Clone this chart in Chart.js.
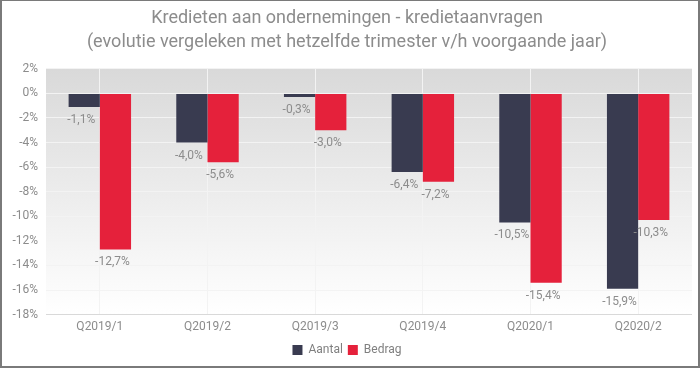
<!DOCTYPE html>
<html>
<head>
<meta charset="utf-8">
<script src="https://cdn.jsdelivr.net/npm/chart.js@4/dist/chart.umd.min.js"></script>
<style>
  html, body { margin: 0; padding: 0; background: #ffffff; }
  #wrap { width: 700px; height: 368px; box-sizing: border-box; border: 2px solid #7a7a7a; border-top-width: 1px; border-left-width: 2px; position: relative; background: #fff; }
  canvas { display: block; }
</style>
</head>
<body>
<div id="wrap"><canvas id="c" width="696" height="365"></canvas></div>
<script>
const categories = ['Q2019/1', 'Q2019/2', 'Q2019/3', 'Q2019/4', 'Q2020/1', 'Q2020/2'];
const aantal = [-1.1, -4.0, -0.3, -6.4, -10.5, -15.9];
const bedrag = [-12.7, -5.6, -3.0, -7.2, -15.4, -10.3];
const seriesNames = ['Aantal', 'Bedrag'];
const titleLines = ['Kredieten aan ondernemingen - kredietaanvragen', '(evolutie vergeleken met hetzelfde trimester v/h voorgaande jaar)'];

const FONT = 'Roboto';
const GREY = '#8c8c8c';

function fmt(v) { return v.toFixed(1).replace('.', ',') + '%'; }

const bgPlugin = {
  id: 'plotBg',
  beforeDraw(chart) {
    const a = chart.chartArea, ctx = chart.ctx;
    const g = ctx.createLinearGradient(0, a.top, 0, a.bottom);
    g.addColorStop(0, '#d9d9d9');
    g.addColorStop(1, '#ffffff');
    ctx.save();
    ctx.fillStyle = g;
    ctx.fillRect(a.left, a.top, a.right - a.left, a.bottom - a.top);
    ctx.restore();
  }
};

const labelPlugin = {
  id: 'barLabels',
  afterDatasetsDraw(chart) {
    const ctx = chart.ctx;
    ctx.save();
    ctx.font = '12px ' + FONT;
    ctx.fillStyle = GREY;
    ctx.textAlign = 'center';
    ctx.textBaseline = 'middle';
    chart.data.datasets.forEach((ds, di) => {
      const meta = chart.getDatasetMeta(di);
      meta.data.forEach((bar, i) => {
        const v = ds.data[i];
        ctx.fillText(fmt(v), bar.x - 3, bar.y + 13);
      });
    });
    ctx.restore();
  }
};

new Chart(document.getElementById('c'), {
  type: 'bar',
  data: {
    labels: categories,
    datasets: [
      { label: seriesNames[0], data: aantal, backgroundColor: '#393b50', borderWidth: 0 },
      { label: seriesNames[1], data: bedrag, backgroundColor: '#e5213b', borderWidth: 0 }
    ]
  },
  options: {
    responsive: false,
    animation: false,
    devicePixelRatio: 1,
    categoryPercentage: 0.58,
    barPercentage: 1,
    layout: { padding: { left: 0, right: 6, top: 0, bottom: 0 } },
    plugins: {
      title: {
        display: true,
        text: titleLines,
        color: GREY,
        font: { family: FONT, size: 18, weight: 'normal', lineHeight: 1.3 },
        padding: { top: 6, bottom: 15 }
      },
      legend: {
        position: 'bottom',
        labels: {
          color: '#7f7f7f',
          font: { family: FONT, size: 12 },
          boxWidth: 10,
          boxHeight: 10,
          padding: 5
        }
      },
      tooltip: { enabled: false }
    },
    scales: {
      x: {
        grid: { offset: false, color: '#f3f3f3', drawTicks: false },
        border: { display: false },
        ticks: { color: GREY, font: { family: FONT, size: 12 }, padding: 5 }
      },
      y: {
        min: -18, max: 2,
        afterFit(s) { s.width = 44; },
        grid: { color: (c) => c.tick && c.tick.value === -18 ? '#d9d9d9' : '#f3f3f3', drawTicks: false },
        border: { display: false },
        ticks: { stepSize: 2, color: GREY, font: { family: FONT, size: 12 }, padding: 8, callback: (v) => v + '%' }
      }
    }
  },
  plugins: [bgPlugin, labelPlugin]
});
</script>
</body>
</html>
